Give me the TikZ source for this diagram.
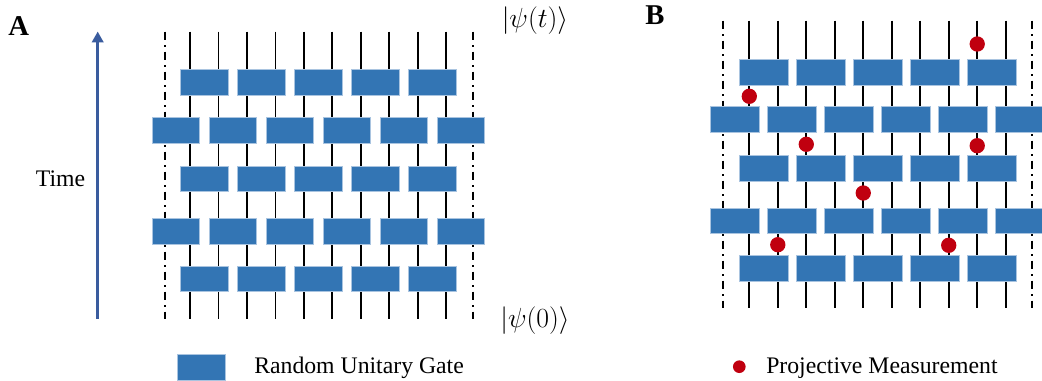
\documentclass[tikz,border=0pt]{standalone}
\usepackage{fontspec}
\setmainfont{Liberation Serif}
\usetikzlibrary{arrows.meta}
\definecolor{gateblue}{HTML}{3375B4}
\definecolor{gateedge}{HTML}{A9C4E0}
\definecolor{measred}{HTML}{C0000F}
\definecolor{timeblue}{HTML}{3A5C9E}
\begin{document}
\begin{tikzpicture}[x=0.75pt,y=-0.75pt,
  gate/.style={rectangle, fill=gateblue, draw=gateedge, line width=0.4pt, inner sep=0pt, minimum width=35.6pt, minimum height=19.2pt},
  gateB/.style={gate, minimum width=36.5pt},
  meas/.style={circle, fill=measred, inner sep=0pt, minimum size=11.5pt},
  wire/.style={line width=1.4pt, black},
  bound/.style={line width=1.5pt, black, dash pattern=on 6.5pt off 3.5pt on 1.5pt off 3.5pt},
  lbl/.style={font=\fontsize{17.8}{20}\selectfont, inner sep=0pt},
  panel/.style={font=\bfseries\fontsize{21.5}{24}\selectfont, inner sep=0pt},
  ket/.style={font=\fontsize{20}{23}\selectfont, inner sep=0pt},
]
\useasboundingbox (0,0) rectangle (1042,381);

% ---------------- Panel A ----------------
\node[panel] (labA) at (18.8,26) {A};
\coordinate (tb) at (97.7,318.5);
\coordinate (tt) at (97.7,31.5);
\draw[timeblue, line width=2.4pt, -{Triangle[length=8.2pt,width=8.5pt]}] (tb) -- (tt);
\node[lbl] (time) at (60.5,178.5) {Time};

\coordinate (ALt) at (165,31.7);
\coordinate (ALb) at (165,319);
\coordinate (ARt) at (472.7,31.7);
\coordinate (ARb) at (472.7,319);
\draw[bound] (ALt) -- (ALb);
\draw[bound] (ARt) -- (ARb);
\foreach \i in {0,...,9} {
  \coordinate (At\i) at ({190+28.48*\i},31.7);
  \coordinate (Ab\i) at ({190+28.48*\i},319);
  \draw[wire] (At\i) -- (Ab\i);
}
\foreach \y [count=\r] in {82.5,130.2,178.7,231.5,278.7} {
  \pgfmathtruncatemacro\odd{mod(\r,2)}
  \ifnum\odd=1
    \foreach \k in {0,...,4} \node[gate] (gA-\r-\k) at ({204.24+56.96*\k},\y) {};
  \else
    \foreach \k in {0,...,5} \node[gate] (gA-\r-\k) at ({175.76+56.96*\k},\y) {};
  \fi
}
\node[ket] (psit) at (535,21) {$|\psi(t)\rangle$};
\node[ket] (psi0) at (535,321) {$|\psi(0)\rangle$};

% ---------------- Panel B ----------------
\node[panel] (labB) at (655,15) {B};
\coordinate (BLt) at (723.3,20.7);
\coordinate (BLb) at (723.3,307.7);
\coordinate (BRt) at (1032.3,20.7);
\coordinate (BRb) at (1032.3,307.7);
\draw[bound] (BLt) -- (BLb);
\draw[bound] (BRt) -- (BRb);
\foreach \i in {0,...,9} {
  \coordinate (Bt\i) at ({749.3+28.49*\i},20.7);
  \coordinate (Bb\i) at ({749.3+28.49*\i},307.7);
  \draw[wire] (Bt\i) -- (Bb\i);
}
\foreach \y [count=\r] in {72,119.5,168,220.8,268} {
  \pgfmathtruncatemacro\odd{mod(\r,2)}
  \ifnum\odd=1
    \foreach \k in {0,...,4} \node[gateB] (gB-\r-\k) at ({763.5+56.98*\k},\y) {};
  \else
    \foreach \k in {0,...,5} \node[gateB] (gB-\r-\k) at ({735+56.98*\k},\y) {};
  \fi
}
\foreach \w/\y [count=\m] in {8/44,0/96.3,2/144.3,8/145.7,4/193,1/244.7,7/245.3} {
  \node[meas] (m\m) at ({749.3+28.49*\w},\y) {};
}

% ---------------- Legend ----------------
\node[gate, minimum width=36.3pt] (legG) at (201.5,367.2) {};
\node[lbl, anchor=base west] (legGt) at (254,373.3) {Random Unitary Gate};
\node[meas, minimum size=9.5pt] (legM) at (739.3,366.7) {};
\node[lbl, anchor=base west] (legMt) at (766,373.3) {Projective Measurement};
\end{tikzpicture}
\end{document}
